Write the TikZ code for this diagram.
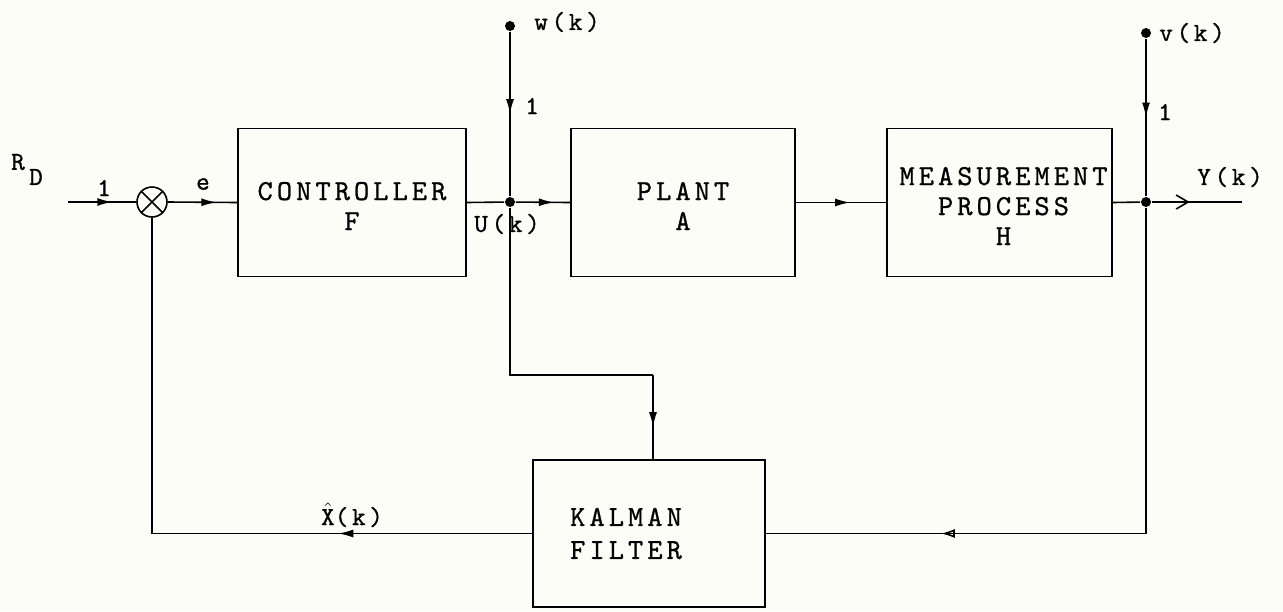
\documentclass[tikz,border=0pt]{standalone}
\usepackage{fontspec}
\usetikzlibrary{arrows.meta,decorations.markings}
\definecolor{paper}{RGB}{253,253,248}
\newfontfamily\typew[LetterSpace=14,FakeBold=0.8]{lmmono10-regular.otf}
\tikzset{
  block/.style={draw, line width=0.9pt, minimum width=#1, minimum height=74pt},
  boxtext/.style={align=center, inner sep=0pt, font=\typew\fontsize{14.5}{15}\selectfont},
  dot/.style={circle, fill, inner sep=0pt, minimum size=5pt},
  lbl/.style={font=\typew\fontsize{13}{13}\selectfont, inner sep=0pt},
  midarrow/.style={postaction={decorate}, decoration={markings,
    mark=at position #1 with {\arrow{Latex[length=7.5pt,width=4pt]}}}},
  midopen/.style={postaction={decorate}, decoration={markings,
    mark=at position #1 with {\arrow{Latex[open,length=7pt,width=4.5pt]}}}},
  midbarb/.style={postaction={decorate}, decoration={markings,
    mark=at position #1 with {\arrow{Straight Barb[length=6pt,width=7pt]}}}}
}
\begin{document}
\begin{tikzpicture}[x=0.5pt, y=-0.5pt, line width=0.8pt]
  \fill[paper] (0,0) rectangle (1283,611);
  \useasboundingbox (0,0) rectangle (1283,611);

  % blocks
  \node[block=114pt] (ctrl) at (352,202.5) {};
  \node[block=112pt] (plant) at (683,202.5) {};
  \node[block=112.5pt] (meas) at (999.5,202.5) {};
  \node[block=116pt, minimum height=73.5pt] (kf) at (649,533.5) {};
  \node[boxtext] (ctrlt) at ([yshift=-1.75pt]ctrl.center) {CONTROLLER\\F};
  \node[boxtext] (plantt) at ([yshift=-1.75pt]plant.center) {PLANT\\A};
  \node[boxtext] (meast) at ([xshift=2pt, yshift=-1.75pt]meas.center) {MEASUREMENT\\PROCESS\\H};
  \node[boxtext] (kft) at ([xshift=-11.5pt]kf.center) {KALMAN\\[1.5pt]FILTER};

  % summing junction
  \node[circle, draw, minimum size=15pt, inner sep=0pt] (sum) at (152,202) {};
  \draw (sum.north west) -- (sum.south east) (sum.north east) -- (sum.south west);

  % branch points and signal ends
  \coordinate (rd) at (68,202);
  \node[dot] (ju) at (510,202) {};
  \node[dot] (jy) at (1146,202) {};
  \node[dot] (wk) at (510,26) {};
  \node[dot] (vk) at (1146,33) {};
  \coordinate (yk) at (1242,202);
  \coordinate (kin) at (653,375);
  \coordinate (fbr) at (jy |- kf.east);
  \coordinate (fbl) at (sum |- kf.west);

  % forward path
  \draw[midarrow=0.65] (rd) -- (sum.west);
  \draw[midarrow=0.7] (sum.east) -- (ctrl.west);
  \draw (ctrl.east) -- (ju);
  \draw[midarrow=0.7] (ju) -- (plant.west);
  \draw[midarrow=0.6] (plant.east) -- (meas.west);
  \draw (meas.east) -- (jy);
  \draw[midbarb=0.42] (jy) -- (yk);

  % noise inputs
  \draw[midarrow=0.5] (wk) -- (ju);
  \draw[midarrow=0.5] (vk) -- (jy);

  % filter inputs
  \draw (ju) |- (kin);
  \draw[midarrow=0.62] (kin) -- (kin |- kf.north);
  \draw (jy) -- (fbr);
  \draw[midopen=0.54] (fbr) -- (kf.east);

  % estimate fed back
  \draw[midarrow=0.51] (kf.west) -- (fbl);
  \draw (fbl) -- (sum.south);

  % labels
  \node[lbl] (rl) at (18,162) {R};
  \node[lbl] (dl) at (36,177) {D};
  \node[lbl] (one1) at (104,188) {1};
  \node[lbl] (el) at (203,184) {e};
  \node[lbl] (ul) at (507,224) {U(k)};
  \node[lbl] (wl) at (567,22) {w(k)};
  \node[lbl] (one2) at (532,106) {1};
  \node[lbl] (vl) at (1192,33) {v(k)};
  \node[lbl] (one3) at (1165,112) {1};
  \node[lbl] (yl) at (1230,177) {Y(k)};
  \node[lbl, anchor=base] (xl) at (352,525) {$\hat{\mbox{X}}$(k)};
\end{tikzpicture}
\end{document}
